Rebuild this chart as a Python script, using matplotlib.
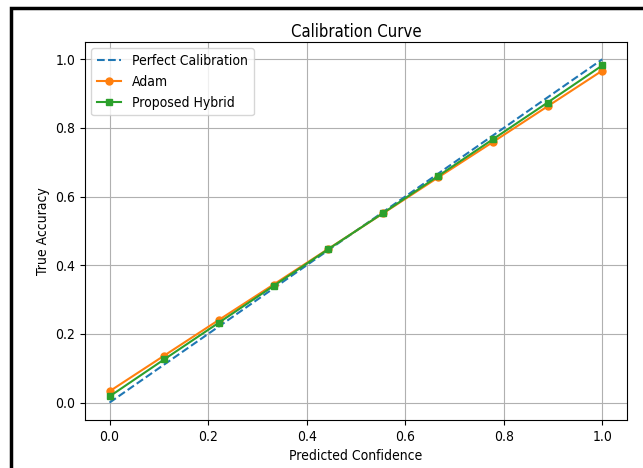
import numpy as np
import matplotlib.pyplot as plt
from matplotlib.patches import Rectangle
from matplotlib import font_manager

# confidence bins and accuracies
conf = [0.0, 0.111, 0.222, 0.333, 0.444, 0.556, 0.667, 0.778, 0.889, 1.0]
adam = [0.033, 0.137, 0.241, 0.344, 0.448, 0.552, 0.656, 0.759, 0.863, 0.967]
hybrid = [0.018, 0.126, 0.233, 0.340, 0.447, 0.553, 0.660, 0.767, 0.874, 0.982]

# text in the reference is a bit narrow, use the condensed face if present
names = [f.name for f in font_manager.fontManager.ttflist]
if 'DejaVu Sans Condensed' in names:
    plt.rcParams['font.family'] = ['DejaVu Sans Condensed', 'DejaVu Sans']
else:
    plt.rcParams['font.family'] = ['DejaVu Sans']
    plt.rcParams['font.stretch'] = 'condensed'

fig = plt.figure(figsize=(6.43, 4.68), dpi=100)
ax = fig.add_axes([0.132, 0.103, 0.843, 0.807])

ax.plot([0, 1], [0, 1], '--', label='Perfect Calibration')
ax.plot(conf, adam, 'o-', markersize=5, label='Adam')
ax.plot(conf, hybrid, 's-', markersize=5, label='Proposed Hybrid')

ax.set_title('Calibration Curve', pad=4)
ax.set_xlabel('Predicted Confidence')
ax.set_ylabel('True Accuracy')
ax.legend(loc='upper left', handlelength=1.75, borderaxespad=0.45)
ax.grid(True)

# black frame around the figure, partly cropped
fig.patches.append(Rectangle((10.5 / 643, -0.2), 1.2, (468 - 8) / 468 + 0.2,
                             transform=fig.transFigure, fill=False,
                             edgecolor='black', linewidth=2.5))

fig.savefig('out.png', dpi=100)
